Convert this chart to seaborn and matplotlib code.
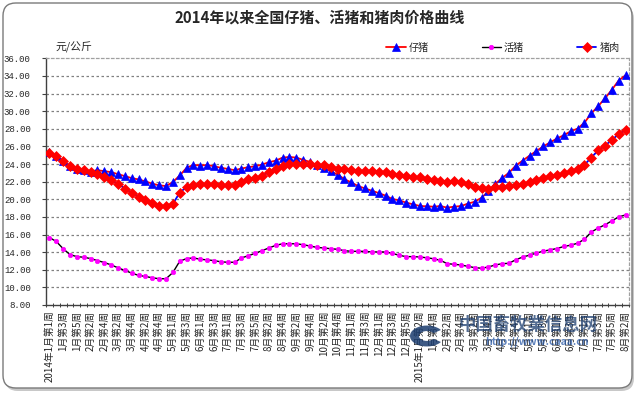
import numpy as np
import pandas as pd
import matplotlib
matplotlib.use("Agg")
import matplotlib.pyplot as plt
import seaborn as sns
from matplotlib.patches import FancyBboxPatch, Wedge

# ---------------- data ----------------
title = "2014年以来全国仔猪、活猪和猪肉价格曲线"
unit_label = "元/公斤"
series_names = ["仔猪", "活猪", "猪肉"]

tick_labels = [
    "2014年1月第1周", "1月第3周", "1月第5周", "2月第2周", "2月第4周", "3月第2周",
    "3月第4周", "4月第2周", "4月第4周", "5月第1周", "5月第3周", "6月第1周",
    "6月第3周", "7月第1周", "7月第3周", "7月第5周", "8月第2周", "8月第4周",
    "9月第2周", "9月第4周", "10月第2周", "10月第4周", "11月第1周", "11月第3周",
    "12月第1周", "12月第3周", "12月第5周", "2015年1月第2周", "1月第4周", "2月第2周",
    "2月第4周", "3月第2周", "3月第4周", "4月第2周", "4月第4周", "5月第1周",
    "5月第3周", "6月第1周", "6月第3周", "7月第1周", "7月第3周", "7月第5周",
    "8月第2周",
]

piglet = [
    25.40, 24.88, 24.35, 23.75, 23.38, 23.27, 23.15, 23.30, 23.19, 23.08,
    22.85, 22.63, 22.40, 22.25, 22.03, 21.77, 21.58, 21.50, 21.96, 22.70,
    23.57, 23.90, 23.83, 23.90, 23.75, 23.57, 23.45, 23.30,
    23.49, 23.64, 23.75, 23.94, 24.20, 24.39, 24.73, 24.80, 24.73, 24.47,
    24.24, 23.86, 23.56, 23.19, 22.81, 22.29, 21.91, 21.50, 21.23, 20.97,
    20.71, 20.41, 20.03, 19.88, 19.62, 19.43, 19.24,
    19.20, 19.16, 19.23, 19.05, 19.16, 19.23, 19.50, 19.72, 20.17, 20.92,
    21.74, 22.41, 23.01, 23.83, 24.39, 24.95, 25.48, 26.00, 26.45, 26.90,
    27.27, 27.72, 28.02, 28.69, 29.74, 30.56, 31.46, 32.43, 33.48, 34.07,
]

hog = [
    15.66, 15.21, 14.39, 13.72, 13.49, 13.42, 13.27, 13.04, 12.82, 12.55,
    12.22, 11.92, 11.62, 11.36, 11.24, 11.09, 10.98, 10.98, 11.69, 12.97,
    13.27, 13.34, 13.19, 13.12, 13.04, 12.90, 12.85, 12.85,
    13.34, 13.60, 13.86, 14.17, 14.47, 14.77, 14.95, 14.95, 14.95, 14.84,
    14.69, 14.54, 14.47, 14.39, 14.32, 14.17, 14.09, 14.09, 14.09, 14.02,
    14.02, 14.02, 13.86, 13.64, 13.49, 13.49, 13.45,
    13.36, 13.25, 13.07, 12.69, 12.62, 12.54, 12.39, 12.24, 12.17, 12.32,
    12.54, 12.69, 12.73, 13.14, 13.44, 13.66, 13.89, 14.11, 14.26, 14.41,
    14.64, 14.79, 15.01, 15.46, 16.28, 16.73, 17.10, 17.55, 18.00, 18.22,
]

pork = [
    25.21, 24.88, 24.35, 23.72, 23.45, 23.30, 23.15, 22.85, 22.48, 22.14,
    21.77, 21.20, 20.76, 20.30, 19.93, 19.56, 19.26, 19.18, 19.48, 20.76,
    21.39, 21.66, 21.70, 21.77, 21.73, 21.62, 21.58, 21.58,
    21.98, 22.25, 22.44, 22.66, 23.11, 23.41, 23.79, 23.98, 24.02, 23.98,
    23.98, 23.94, 23.86, 23.68, 23.49, 23.38, 23.30, 23.23, 23.23, 23.19,
    23.11, 23.04, 22.89, 22.77, 22.66, 22.51, 22.50,
    22.34, 22.19, 22.04, 21.96, 22.04, 21.96, 21.74, 21.44, 21.29, 21.21,
    21.36, 21.44, 21.51, 21.59, 21.74, 21.96, 22.19, 22.41, 22.64, 22.79,
    22.93, 23.16, 23.46, 23.91, 24.73, 25.55, 26.07, 26.75, 27.38, 27.87,
]

y_ticks = [8, 10, 12, 14, 16, 18, 20, 22, 24, 26, 28, 30, 32, 34, 36]

# ---------------- figure ----------------
sns.set_style("white")
plt.rcParams["font.family"] = ["Noto Sans CJK SC", "DejaVu Sans"]

W, H = 640, 394
fig = plt.figure(figsize=(W / 100, H / 100), dpi=100)
fig.patch.set_facecolor("white")

# chart-area rounded frame with a light shadow (behind the axes)
shadow = FancyBboxPatch((5 / W, 1 - 391 / H), 629 / W, 385 / H,
                        boxstyle="round,pad=0,rounding_size=0.02",
                        transform=fig.transFigure, fc="#c8c8c8", ec="none",
                        mutation_aspect=W / H, zorder=-3)
frame = FancyBboxPatch((3 / W, 1 - 388 / H), 629 / W, 385 / H,
                       boxstyle="round,pad=0,rounding_size=0.02",
                       transform=fig.transFigure, fc="white", ec="#7a7a7a",
                       lw=1.0, mutation_aspect=W / H, zorder=-2)
fig.patches.extend([shadow, frame])

left, right, top, bottom = 46, 629, 58.3, 305
ax = fig.add_axes([left / W, 1 - bottom / H, (right - left) / W, (bottom - top) / H])
ax.set_facecolor("none")
ax.set_zorder(1)

n = len(piglet)
df = pd.DataFrame({"week": np.arange(n), "仔猪": piglet, "活猪": hog, "猪肉": pork})

sns.lineplot(data=df, x="week", y="仔猪", ax=ax, color="#FF0000", linewidth=1.3,
             marker="^", markersize=6.2, markerfacecolor="#0000FF",
             markeredgecolor="#0000FF", markeredgewidth=0.5, errorbar=None,
             label=series_names[0], zorder=3)
sns.lineplot(data=df, x="week", y="活猪", ax=ax, color="#000000", linewidth=1.0,
             marker="o", markersize=3.2, markerfacecolor="#FF00FF",
             markeredgecolor="#FF00FF", markeredgewidth=0.5, errorbar=None,
             label=series_names[1], zorder=3)
sns.lineplot(data=df, x="week", y="猪肉", ax=ax, color="#0000FF", linewidth=1.3,
             marker="D", markersize=4.6, markerfacecolor="#FF0000",
             markeredgecolor="#FF0000", markeredgewidth=0.5, errorbar=None,
             label=series_names[2], zorder=4)

ax.set_xlim(-0.5, n - 0.5)
ax.set_ylim(8, 36)
ax.set_xlabel("")
ax.set_ylabel("")

ax.set_yticks(y_ticks)
ax.set_yticklabels([f"{v:.2f}" for v in y_ticks], family="Liberation Mono",
                   fontsize=6.5)
ax.tick_params(axis="y", direction="out", length=3, width=0.8, color="#404040",
               pad=8, left=True)

ax.set_xticks(np.arange(0, n, 2))
ax.set_xticklabels(tick_labels, rotation=90, fontsize=7.0, va="top", ha="center")
ax.set_xticks(np.arange(-0.5, n, 1), minor=True)
ax.tick_params(axis="x", which="major", length=0, pad=4)
ax.tick_params(axis="x", which="minor", direction="inout", length=3, width=0.7,
               color="#404040", bottom=True)

ax.grid(False)
for v in y_ticks[1:-1]:
    ax.axhline(v, color="#808080", lw=0.9, ls=(0, (2, 2)), zorder=1)

for s in ["left", "bottom"]:
    ax.spines[s].set_color("#404040")
    ax.spines[s].set_linewidth(1.0)
for s in ["top", "right"]:
    ax.spines[s].set_color("#a0a0a0")
    ax.spines[s].set_linestyle((0, (2, 2)))
    ax.spines[s].set_linewidth(0.9)

ax.legend_.remove()
handles, labels = ax.get_legend_handles_labels()
fig.legend(handles, labels, loc="center", bbox_to_anchor=(503 / W, 1 - 48 / H),
           ncol=3, frameon=False, fontsize=7.3, handlelength=1.9,
           handletextpad=0.3, columnspacing=5.2, borderaxespad=0)

fig.text(320 / W, 1 - 18 / H, title, ha="center", va="center", fontsize=10.8,
         fontweight="bold")
fig.text(56 / W, 1 - 47 / H, unit_label, ha="left", va="center", fontsize=7.8)

# watermark of the source site
logo = Wedge((427 / W, 1 - 336 / H), 17 / W, 35, 325, width=9 / W,
             transform=fig.transFigure, fc="#1b3c6e", ec="none", alpha=0.85,
             zorder=5)
fig.patches.append(logo)
fig.text(528 / W, 1 - 325 / H, "中国畜牧業信息网", ha="center", va="center",
         fontsize=12.5, fontweight="bold", color="#1b3c6e", alpha=0.75, zorder=5)
fig.text(537 / W, 1 - 342 / H, "http://www.caaa.cn", ha="center", va="center",
         fontsize=7.5, fontweight="bold", color="#2a5aa8", alpha=0.75, zorder=5)

fig.savefig("out.png", dpi=100)
